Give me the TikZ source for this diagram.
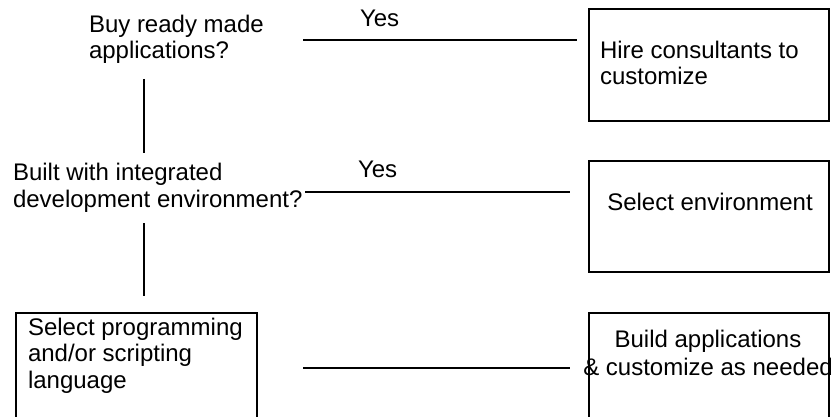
\documentclass[tikz,border=0pt]{standalone}
\usepackage{fontspec}
\setmainfont{Liberation Sans}
\begin{document}
\begin{tikzpicture}[x=1pt,y=-1pt,line width=2pt,
  txt/.style={inner sep=0pt,font=\fontsize{24}{26.5}\selectfont,align=left,anchor=base west},
  ctxt/.style={inner sep=0pt,font=\fontsize{24}{28}\selectfont,align=center,anchor=base},
  boxnode/.style={draw,line width=2pt,minimum width=240pt,inner sep=0pt,anchor=north west}]
\useasboundingbox (0,0) rectangle (838,417);
% boxes
\node[boxnode,minimum height=112pt] (b1) at (588,8) {};
\node[boxnode,minimum height=111pt] (b2) at (588,160) {};
\node[boxnode,minimum height=130pt] (b3) at (588,312) {};
\node[boxnode,minimum width=241pt,minimum height=130pt] (b4) at (15,312) {};
% texts (base anchor = baseline of the last line)
\node[txt] (q1) at (88,59) {Buy ready made\\applications?};
\node[txt] (q2) at (12,207) {Built with integrated\\development environment?};
\node[txt] (y1) at (359,27) {Yes};
\node[txt] (y2) at (357,178) {Yes};
\node[txt] (t1) at (599,85) {Hire consultants to\\customize};
\node[ctxt] (t2) at (710,210) {Select environment};
\node[ctxt] (t3) at (708,375) {Build applications\\\& customize as needed};
\node[txt] (t4) at (27,388) {Select programming\\and/or scripting\\language};
% connector ends
\coordinate (h1a) at (303,40);  \coordinate (h1b) at (577,40);
\coordinate (h2a) at (305,192); \coordinate (h2b) at (570,192);
\coordinate (h3a) at (303,368); \coordinate (h3b) at (570,368);
\coordinate (v1a) at (144,79);  \coordinate (v1b) at (144,153);
\coordinate (v2a) at (144,223); \coordinate (v2b) at (144,296);
\draw (h1a) -- (h1b);
\draw (h2a) -- (h2b);
\draw (h3a) -- (h3b);
\draw (v1a) -- (v1b);
\draw (v2a) -- (v2b);
\end{tikzpicture}
\end{document}
